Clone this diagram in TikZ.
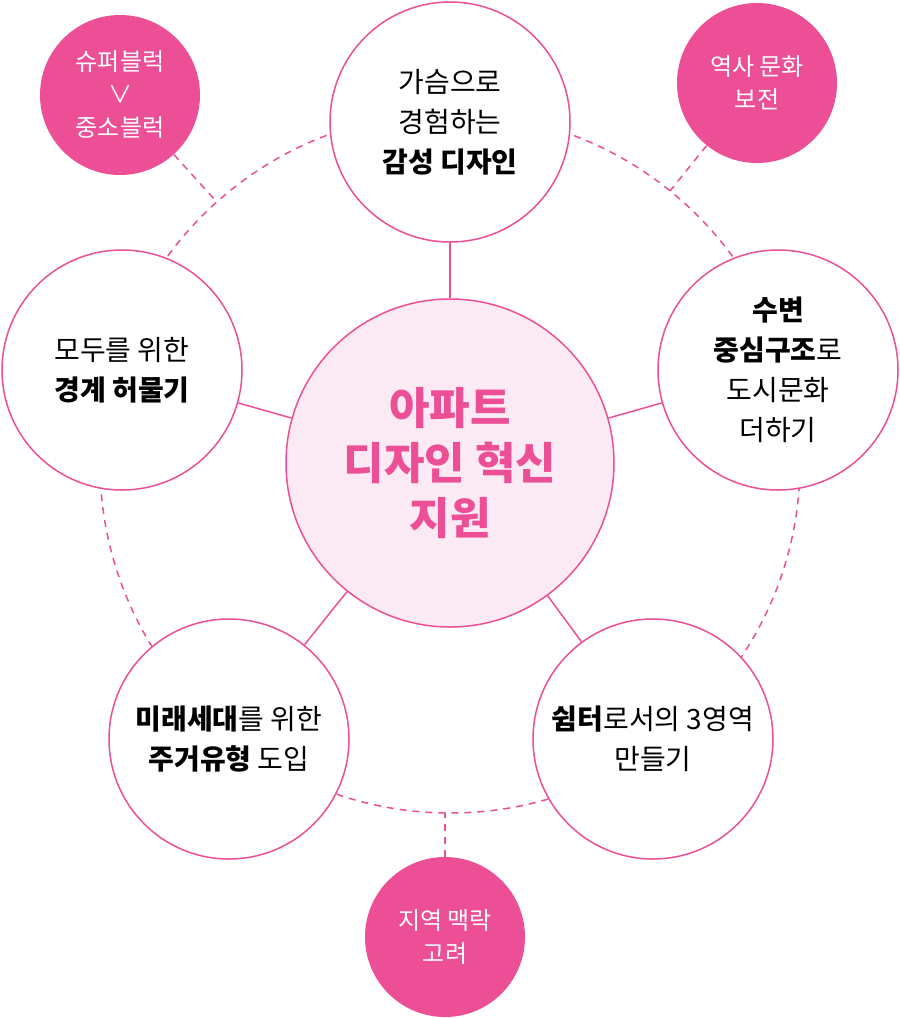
\documentclass[tikz,border=0pt]{standalone}
\usepackage{fontspec}
\setmainfont{Noto Sans CJK KR}
\definecolor{rose}{HTML}{EC4F96}
\definecolor{blush}{HTML}{FBEAF3}

\begin{document}
\begin{tikzpicture}[
x=0.5pt, y=-0.5pt,
topic/.style={circle, draw=rose, line width=0.75pt, fill=white, minimum size=120pt, inner sep=0pt, align=center, font=\fontsize{14}{20}\selectfont},
hubnode/.style={circle, draw=rose, line width=0.75pt, fill=blush, minimum size=164pt, inner sep=0pt, align=center, text=rose, font=\fontsize{22}{27.5}\selectfont\bfseries},
tag/.style={circle, fill=rose, minimum size=80pt, inner sep=0pt, align=center, text=white, font=\fontsize{12}{16.5}\selectfont},
link/.style={draw=rose, line width=0.75pt},
ring/.style={draw=rose, line width=0.75pt, dash pattern=on 3.5pt off 3pt}
]
\useasboundingbox (0,0) rectangle (900,1018);

% outer dashed ring
\coordinate (mid) at (450,463);
\draw[ring] (mid) circle[radius=175pt];
\coordinate (tl) at (215,200);
\coordinate (tr) at (670,191);
\coordinate (bt) at (445,813);

% pink tags
\node[tag] (block) at (120,95) {슈퍼블럭\\∨\\중소블럭};
\node[tag] (heritage) at (757,83) {역사 문화\\보전};
\node[tag] (context) at (445,937) {지역 맥락\\고려};
\draw[ring] (block) -- (tl);
\draw[ring] (heritage) -- (tr);
\draw[ring] (context) -- (bt);

% hub and topics
\node[hubnode] (hub) at (mid) {아파트\\디자인 혁신\\지원};
\node[topic] (emotion) at (450,122) {가슴으로\\경험하는\\\textbf{감성 디자인}};
\node[topic] (border) at (122,370) {모두를 위한\\\textbf{경계 허물기}};
\node[topic] (water) at (778,370) {\textbf{수변}\\\textbf{중심구조}로\\도시문화\\더하기};
\node[topic] (future) at (229,739) {\textbf{미래세대}를 위한\\\textbf{주거유형} 도입};
\node[topic] (shelter) at (653,739) {\textbf{쉼터}로서의 3영역\\만들기};

\draw[link] (hub) -- (emotion);
\draw[link] (hub) -- (border);
\draw[link] (hub) -- (water);
\draw[link] (hub) -- (future);
\draw[link] (hub) -- (shelter);
\end{tikzpicture}
\end{document}
